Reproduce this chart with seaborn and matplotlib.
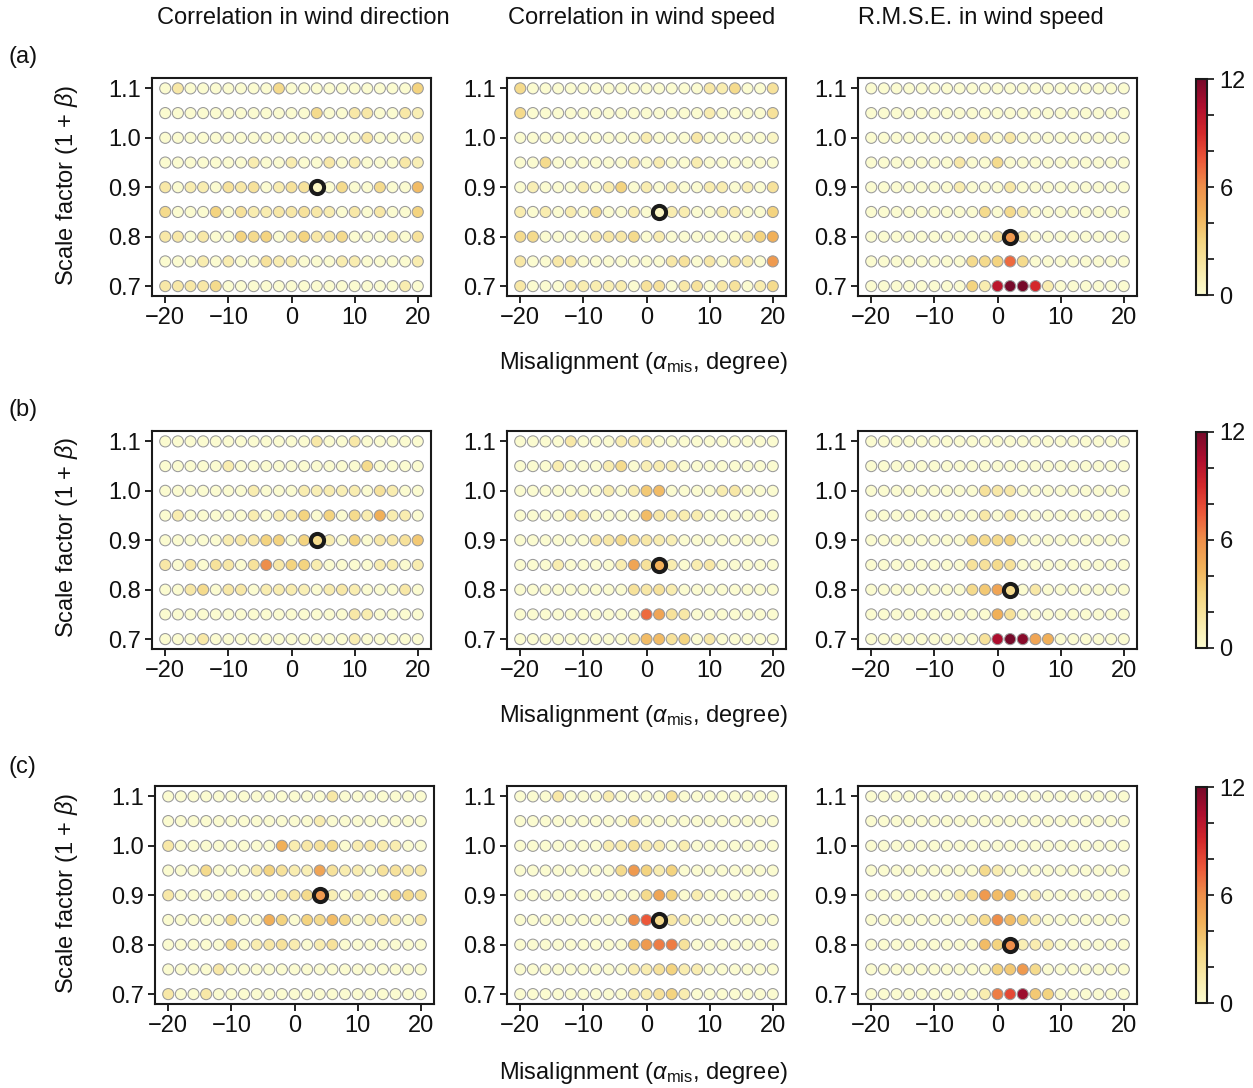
import numpy as np
import pandas as pd
import matplotlib
matplotlib.use("Agg")
import matplotlib.pyplot as plt
import seaborn as sns
from matplotlib.colors import Normalize, ListedColormap
from matplotlib.cm import ScalarMappable

# ---------------- data ----------------
MISALIGN = [-20, -18, -16, -14, -12, -10, -8, -6, -4, -2, 0, 2, 4, 6, 8, 10, 12, 14, 16, 18, 20]
SCALE = [1.1, 1.05, 1.0, 0.95, 0.9, 0.85, 0.8, 0.75, 0.7]   # rows, top to bottom
COL_TITLES = ["Correlation in wind direction", "Correlation in wind speed", "R.M.S.E. in wind speed"]
ROW_LABELS = ["(a)", "(b)", "(c)"]
X_TICKS = [-20, -10, 0, 10, 20]
Y_TICKS = [0.7, 0.8, 0.9, 1.0, 1.1]
CB_TICKS = [0, 6, 12]
CB_MINOR = [2, 4, 8, 10]

Z = [0] * 21

DIR_A = [
    [0,1.5,0,0,0,0,0,0,0,2.5,0,0,0,0,0,0,0,0,0,0,3],
    [0,0,0,0,0,0,0,0,0,0,0,0,2.5,0,0,1.5,1.5,0,0,1.5,1],
    [0,0,0,0,0,0,0,0,0,0,0,0,0,0,0,0,1.5,0,0,0,1],
    [0,0,0,0,0,0,0,1.2,0,0,1.2,0,0,1.5,0,1.2,0,0,0,1.5,1],
    [1.5,0,1.2,1.2,0,2,1.5,2,0,1.2,2,2,0.5,0,2.5,0,0,2.5,0,0,4],
    [2.5,0,0,0,3,0,2,1.2,1.2,1.5,1.5,2,1.5,1.2,0,1.5,0,1.5,0,0,3],
    [1.5,1.5,0,1.5,0,0,3,2.5,3,0,1.5,3,1.5,1.5,2.5,0,0,0,1.2,0,2],
    [0,0,0,1.2,0,1.2,0,0,2,1.2,1.2,0,0,0,1.2,1.2,0,0,0,0,1.2],
    [1.5,1.5,1.5,1.5,2.5,0,0,0,0,0,0,0,0,0,0,0,0,0,0,1.2,0],
]
SPD_A = [
    [2.5,0,0,0,0,0,0,0,0,0,0,0,0,0,0,1.5,1.2,2.5,0,0,2],
    [2.5,0,0,0,0,0,0,0,0,0,0,0,0,0,0,1.2,0,0,0,0,2],
    [0,0,0,0,0,0,0,0,0,0,1.2,0,0,0,1.5,0,0,0,0,0,0.5],
    [0,0,2.5,0,0,0,0,0,0,1.2,0,1.2,0,0,1.2,0,0,0,0,0,0],
    [0,1,0,0,0,1.2,0,1.2,3,0,1.2,0,1,0,0,1.2,1.2,0,1,0,2],
    [1.2,0,1.2,0,1.2,0,2.5,0,0,1.2,0,0.5,1.2,1.2,0,0,1,1.2,0,0,3],
    [2.5,2.5,0,0,0,0,1.5,1.5,1.5,2.5,0,1.2,0,0,0,0,0,0,1.2,3,4.5],
    [1.5,0,0,1.5,1.5,0,0,0,0,0,0,0,1.5,2,0,1.5,0,2,1.2,0,5.5],
    [1.5,0,0,0,1.2,1.2,1.2,1,1.2,0,2,2,0,1.5,2,0,1.5,2,0,1.2,2.5],
]
RMSE_A = [
    Z, Z,
    [0,0,0,0,0,0,0,0,1.5,1.5,0,1.5,0,0,0,0,0,0,0,0,0],
    [0,0,0,0,0,0,0,1.5,0,0,2.5,0,0,0,0,0,0,0,0,0,0],
    [0,0,0,0,0,0,0,1.2,0,0,0,1.5,0,0,0,0,0,0,0,0,0],
    [0,0,0,0,0,0,0,0,0,2.5,0,2.5,1.2,0,0,0,0,0,0,0,0],
    [0,0,0,0,0,0,0,0,0,0,2,5.5,1.2,0,0,0,0,0,0,0,0],
    [0,0,0,0,0,0,0,0,2.5,2.5,3,7,2.5,0,0,0,0,0,0,0,0],
    [0,0,0,0,0,0,0,0,3,1.2,10,12,12,9,1.2,0,0,0,0,0,0],
]
DIR_B = [
    [0,0,0,0,0,0,0,0,0,0,0,0,1.5,0,0,1.5,0,0,0,0,0],
    [0,0,0,0,0,1.2,0,0,0,0,0,0,0,0,0,0,2.5,0,0,0,0],
    [0,0,0,0,0,0,0,1.2,0,0,0,1.2,1,1.2,1,1.2,0,2,1.2,0,0],
    [0,1.2,0,0,0,0,0,1.2,0,1.2,1.2,3,0,3,0,2.5,1.2,4.5,1.2,1.2,0],
    [0,0,0,0,0,1.2,1.5,1.5,3,3,0,3,2.5,1.2,0,3,0,1.5,1.5,2,3.5],
    [1.5,0,1.5,0,2,1.5,0,2,6,1.5,3,3,1.2,0,0,0,0,1.2,1.2,0,1.2],
    [0,0,1.5,2.5,0,1.5,1.5,0,1.2,1.2,1.2,1,0,1.2,1.5,1.2,0,0,0,1.5,0],
    [0,0,0,0,0,0,0,0,0,0,0,0,0,0,0,1.5,1.2,0,0,0,0],
    [0,0,0,1.5,0,0,0,0,0,0,0,0,0,0,0,1.2,0,0,0,0,0],
]
SPD_B = [
    [0,0,0,0,1.5,0,0,0,1.2,1.2,1.2,0,0,0,0,0,0,0,0,0,0],
    [0,0,0,1.2,0,0,0,1.2,2.5,0,1,1.2,1,0,0,0,0,0,0,0,0],
    [0,0,0,0,0,0,0,1.2,0,1.2,3.5,4,0,0,0,0,1.2,1.5,0,0,0],
    [0,0,0,0,1.2,1.2,0,0,0,0,4,1.5,1.2,1.2,1.2,0,0,0,0,0,0],
    [0,0,0,0,0,0,1.5,1.5,2.5,2,1.5,1.2,1,0,0,0,0,0,0,0,0],
    [0,0,0,1.2,0,0,0,0,1.2,5,2,4.5,1.2,0,1.2,1.5,0,0,0,0,0],
    [0,0,0,0,0,0,0,0,0,2,1.5,2,1.2,0,0,0,0,0,0,0,0],
    [0,0,0,0,0,0,0,0,0,0,7,5,2,1.5,0,0,0,0,0,0,0],
    [0,0,0,0,0,0,0,0,0,1.2,4,4,2,3,0,1.5,0,0,0,0,0],
]
RMSE_B = [
    Z, Z,
    [0,0,0,0,0,0,0,0,0,2,1.5,1.5,0,0,0,0,0,0,0,0,0],
    [0,0,0,0,0,0,0,0,0,1.5,0,1.2,0,0,0,0,0,0,0,0,0],
    [0,0,0,0,0,0,0,0,2.5,2.5,2.5,3,0,0,0,0,0,0,0,0,0],
    [0,0,0,0,0,0,0,0,2,2,2.5,2,0,0,0,0,0,0,0,0,0],
    [0,0,0,0,0,0,0,0,2.5,3.5,5,2.5,0,1.5,0,0,0,0,0,0,0],
    [0,0,0,0,0,0,0,0,0,0,4.5,2,0,0,0,0,0,0,0,0,0],
    [0,0,0,0,0,0,0,0,0,2,10.5,12,11.5,5,4.5,0,0,0,0,0,0],
]
DIR_C = [
    [0,0,0,0,0,0,0,0,0,0,0,0,0,1.5,0,0,0,0,0,0,0],
    [0,0,0,0,0,0,0,0,0,0,0,0,1.2,0,0,0,0,0,0,0,0],
    [1.5,0,0,0,0,0,0,0,0,4.5,1.2,1.5,2,2.5,0,1.2,1.5,1.2,1.2,0,0],
    [0,0,0,2.5,0,0,0,1.2,3,2,1.2,1,5,2,1.2,1.2,0,2,2,1.2,1.5],
    [1.5,0,0,0,0,1.2,0,0,0,1.2,1.5,2.5,5.5,1,0,1.2,0,0,3,2.5,2],
    [0,0,0,0,0,2.5,0,0,4.5,3,0,3,2.5,4,2.5,0,1.2,1.5,1.2,0,1.5],
    [0,0,0,0,0,2.5,0,1.2,1.5,2,1.2,0,1.2,2,0,0,0,0,0,0,0],
    [0,0,0,0,1.5,0,0,0,0,0,0,0,0,0,0,0,0,0,0,0,0],
    [1.5,0,0,1.5,0,0,0,0,0,0,0,0,0,0,0,0,0,0,0,0,0],
]
SPD_C = [
    [0,0,0,1.5,0,0,0,1.2,0,0,0,0,2,0,0,0,0,0,0,0,0],
    [0,0,0,0,0,0,0,0,0,2,0,0,0,0,0,0,0,0,0,0,0],
    [0,0,0,0,0,0,0,1.2,1.2,2,1.2,1.2,0,1.2,0,0,0,0,0,0,0],
    [0,0,0,0,0,0,0,0,2.5,5.5,3,1.2,3,0,0,0,0,0,0,0,0],
    [0,0,0,0,0,0,0,0,0,0,2.5,5,3,0,1.2,0,0,0,0,0,0],
    [0,0,0,0,0,0,0,0,0,6,7.5,2.5,1.5,1.2,0,0,0,0,0,0,0],
    [0,0,0,0,0,0,0,0,0,3.5,5.5,6.5,6.5,2,0,0,0,0,0,0,0],
    [0,0,0,0,0,0,0,0,0,1.2,1.2,2,3,1.2,1.2,0,0,0,0,0,0],
    [0,0,0,0,0,0,0,0,0,1.2,1.2,2,3,1.2,0,0,0,0,0,0,0],
]
RMSE_C = [
    Z, Z, Z,
    [0,0,0,0,0,0,0,0,0,2.5,1.2,0,0,0,0,0,0,0,0,0,0],
    [0,0,0,0,0,0,0,1.2,2,5.5,4,4,0,1.2,0,0,0,0,0,0,0],
    [0,0,0,0,0,0,0,0,1.2,2.5,6,4,3,1.2,0,0,0,0,0,0,0],
    [0,0,0,0,0,0,0,0,0,4,3,6,1,1.2,1.2,0,0,0,0,0,0],
    [0,0,0,0,0,0,0,0,0,0,3,3.5,5.5,2.5,0,0,0,0,0,0,0],
    [0,0,0,0,0,0,0,0,0,1.2,6.5,8,11,3.5,3,0,0,0,0,0,0],
]

PANELS = [[DIR_A, SPD_A, RMSE_A], [DIR_B, SPD_B, RMSE_B], [DIR_C, SPD_C, RMSE_C]]
BEST_X = [4, 2, 2]          # per column
BEST_Y = [0.9, 0.85, 0.8]   # per column

# ---------------- style ----------------
sns.set_theme(style="ticks")
plt.rcParams["font.family"] = ["Liberation Sans", "DejaVu Sans"]
plt.rcParams["mathtext.fontset"] = "custom"
plt.rcParams["mathtext.rm"] = "Liberation Sans"
plt.rcParams["mathtext.it"] = "Liberation Sans:italic"
plt.rcParams["text.color"] = "#111111"
plt.rcParams["axes.labelcolor"] = "#111111"
FS = 17

W, H = 1253, 1088
fig = plt.figure(figsize=(W / 100, H / 100), dpi=100)

def fr(left, top, w, h):
    return [left / W, 1 - (top + h) / H, w / W, h / H]

col_left = [152, 507, 858]
row_top = [78, 431, 786]
AW, AH = 279, 218
norm = Normalize(0, 12)
cmap = ListedColormap(sns.color_palette("YlOrRd", 256, desat=0.85))

for r in range(3):
    for c in range(3):
        grid = PANELS[r][c]
        recs = []
        for i, yv in enumerate(SCALE):
            for j, xv in enumerate(MISALIGN):
                recs.append((xv, yv, grid[i][j]))
        df = pd.DataFrame(recs, columns=["mis", "scale", "val"])
        ax = fig.add_axes(fr(col_left[c] + (3 if r == 2 and c == 0 else 0), row_top[r], AW, AH))
        sns.scatterplot(data=df, x="mis", y="scale", hue="val", palette=cmap, hue_norm=norm,
                        s=64, edgecolor="#999999", linewidth=0.75, legend=False, ax=ax, zorder=2)
        best = df[(df["mis"] == BEST_X[c]) & (np.isclose(df["scale"], BEST_Y[c]))]
        sns.scatterplot(data=best, x="mis", y="scale", hue="val", palette=cmap, hue_norm=norm,
                        s=90, edgecolor="#1a1a1a", linewidth=2.9, legend=False, ax=ax, zorder=3)
        ax.set_xlim(-22.1, 22.1)
        ax.set_ylim(0.68, 1.121)
        ax.set_xticks(X_TICKS)
        ax.set_yticks(Y_TICKS)
        ax.set_yticklabels([f"{v:.1f}" for v in Y_TICKS])
        ax.set_xlabel("")
        ax.set_ylabel("")
        ax.tick_params(labelsize=FS, length=5, width=1.3, direction="out", pad=3,
                       colors="#111111")
        for sp in ax.spines.values():
            sp.set_visible(True)
            sp.set_linewidth(1.5)
            sp.set_color("#1a1a1a")

    # colorbar
    cax = fig.add_axes(fr(1196, row_top[r] + 1, 11, AH - 2))
    cb = fig.colorbar(ScalarMappable(norm=norm, cmap=cmap), cax=cax)
    cb.set_ticks(CB_TICKS)
    cb.ax.set_yticks(CB_MINOR, minor=True)
    cb.ax.tick_params(which="major", labelsize=FS, length=5, width=1.2, pad=4, colors="#111111")
    cb.ax.tick_params(which="minor", length=5, width=1.2, colors="#111111")
    cb.outline.set_linewidth(1.5)
    cb.outline.set_edgecolor("#1a1a1a")

# titles
title_cx = [303, 642, 981]
for c in range(3):
    fig.text(title_cx[c] / W, 1 - 18 / H, COL_TITLES[c], ha="center", va="center", fontsize=FS)

label_y = [57, 410, 767]
xlab_y = [363, 716, 1073]
ylab_cy = [185, 537, 893]
for r in range(3):
    fig.text(8 / W, 1 - label_y[r] / H, ROW_LABELS[r], ha="left", va="center", fontsize=FS)
    fig.text(643 / W, 1 - xlab_y[r] / H, r"Misalignment ($\alpha_{\mathrm{mis}}$, degree)",
             ha="center", va="center", fontsize=FS)
    fig.text(67 / W, 1 - ylab_cy[r] / H, r"Scale factor (1 + $\beta$)", ha="center", va="center",
             rotation=90, fontsize=FS)

fig.savefig("out.png", dpi=100)
